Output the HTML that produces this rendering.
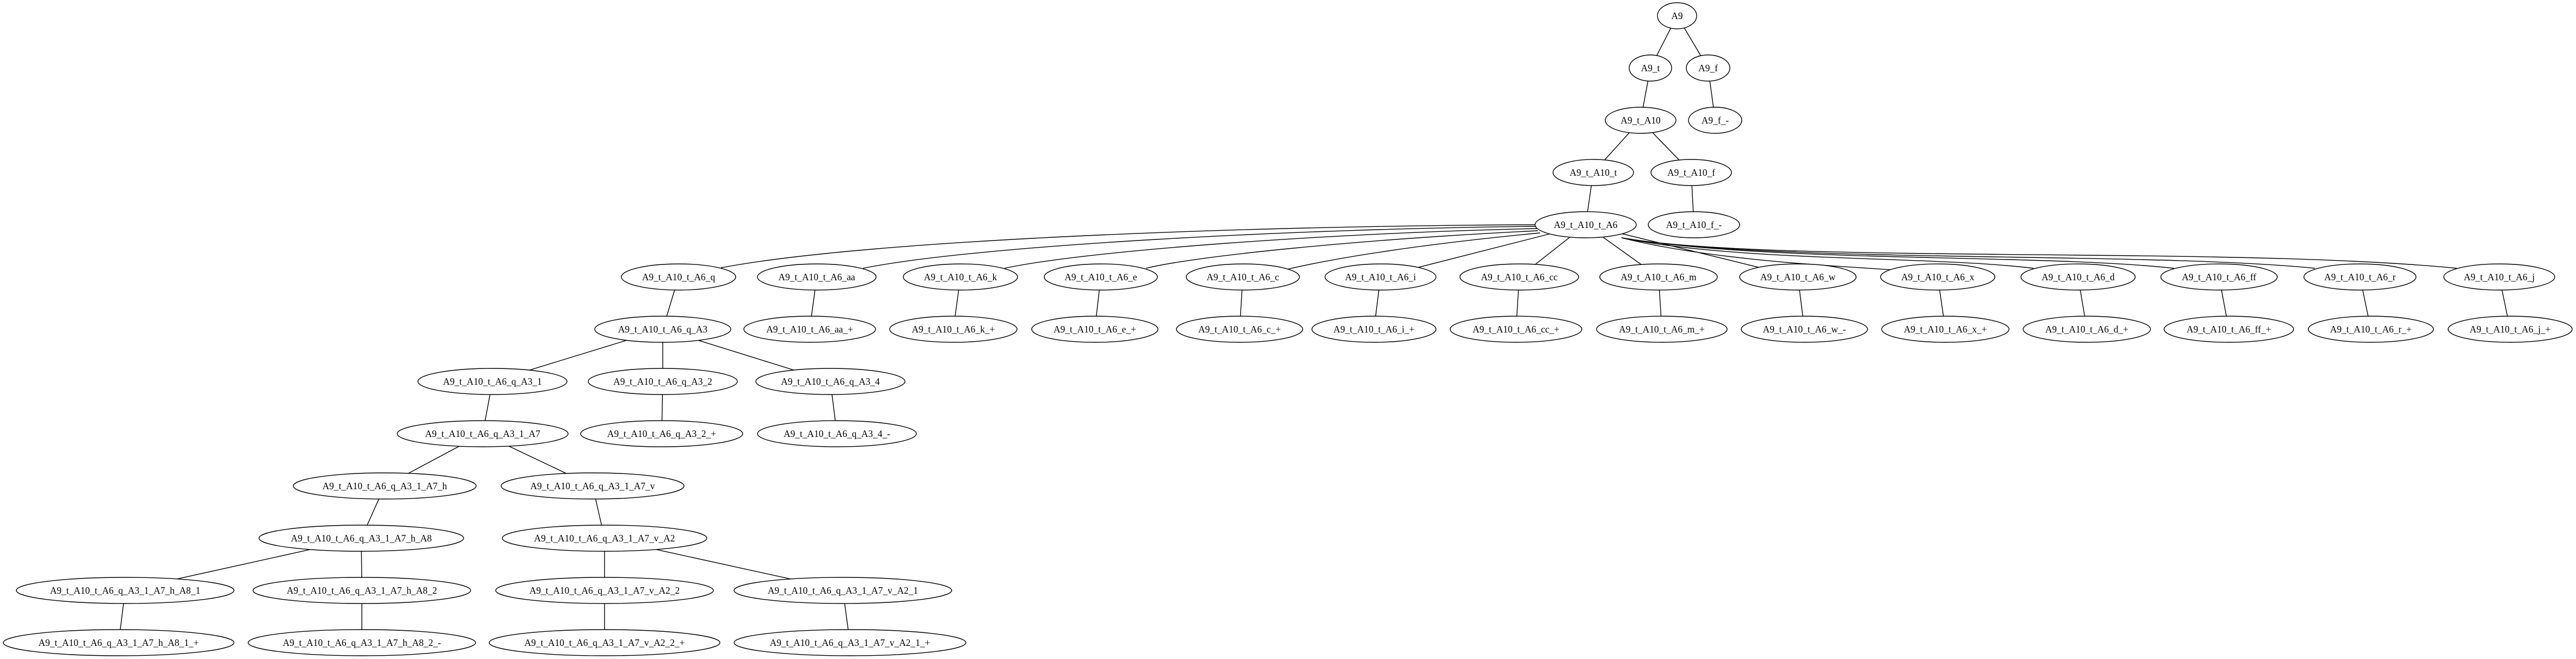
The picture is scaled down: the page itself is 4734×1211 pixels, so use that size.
<!DOCTYPE html>
<html><head><meta charset="utf-8"><style>
html,body{margin:0;padding:0;background:#fff;}
svg{display:block;}
text{font-family:"Liberation Serif",serif;font-size:17.4px;text-anchor:middle;fill:#000;}
ellipse{fill:#fff;stroke:#000;stroke-width:1.4;}
line,path{stroke:#000;stroke-width:1.4;fill:none;}
</style></head><body>
<svg width="4734" height="1211" viewBox="0 0 4734 1211" xmlns="http://www.w3.org/2000/svg">
<g>
<line x1="3082" y1="29" x2="3033" y2="125"/>
<line x1="3082" y1="29" x2="3139" y2="125"/>
<line x1="3033" y1="125" x2="3015" y2="221"/>
<line x1="3139" y1="125" x2="3152" y2="221"/>
<line x1="3015" y1="221" x2="2928" y2="317"/>
<line x1="3015" y1="221" x2="3108" y2="317"/>
<line x1="2928" y1="317" x2="2914" y2="413"/>
<line x1="3108" y1="317" x2="3113" y2="413"/>
<path d="M2822,413 C2300,415 1600,440 1325,492"/>
<path d="M2822,416 C2400,420 1800,450 1586,493"/>
<path d="M2824,420 C2450,428 2000,460 1846,493"/>
<path d="M2826,424 C2500,440 2200,470 2106,493"/>
<path d="M2830,428 C2600,450 2450,475 2365,495"/>
<line x1="2914" y1="413" x2="2537" y2="509"/>
<line x1="2914" y1="413" x2="2792" y2="509"/>
<line x1="2914" y1="413" x2="3048" y2="509"/>
<line x1="2914" y1="413" x2="3304" y2="509"/>
<path d="M2980,437 C3150,480 3400,490 3479,496"/>
<path d="M2980,437 C3200,482 3550,470 3737,493"/>
<path d="M2980,437 C3250,483 3750,466 3995,493"/>
<path d="M2980,437 C3250,484 3950,462 4254,493"/>
<path d="M2980,437 C3250,485 4100,452 4515,493"/>
<line x1="1247" y1="509" x2="1218" y2="605"/>
<line x1="1501" y1="509" x2="1488" y2="605"/>
<line x1="1765" y1="509" x2="1752" y2="605"/>
<line x1="2023" y1="509" x2="2012" y2="605"/>
<line x1="2284" y1="509" x2="2278" y2="605"/>
<line x1="2537" y1="509" x2="2525" y2="605"/>
<line x1="2792" y1="509" x2="2786" y2="605"/>
<line x1="3048" y1="509" x2="3054" y2="605"/>
<line x1="3304" y1="509" x2="3316" y2="605"/>
<line x1="3561" y1="509" x2="3575" y2="605"/>
<line x1="3819" y1="509" x2="3835" y2="605"/>
<line x1="4078" y1="509" x2="4096" y2="605"/>
<line x1="4337" y1="509" x2="4357" y2="605"/>
<line x1="4593" y1="509" x2="4613" y2="605"/>
<line x1="1218" y1="605" x2="905" y2="701"/>
<line x1="1218" y1="605" x2="1218" y2="701"/>
<line x1="1218" y1="605" x2="1526" y2="701"/>
<line x1="905" y1="701" x2="887" y2="797"/>
<line x1="1218" y1="701" x2="1216" y2="797"/>
<line x1="1526" y1="701" x2="1538" y2="797"/>
<line x1="887" y1="797" x2="707" y2="893"/>
<line x1="887" y1="797" x2="1089" y2="893"/>
<line x1="707" y1="893" x2="664" y2="989"/>
<line x1="1089" y1="893" x2="1111" y2="989"/>
<line x1="664" y1="989" x2="230" y2="1085"/>
<line x1="664" y1="989" x2="665" y2="1085"/>
<line x1="1111" y1="989" x2="1111" y2="1085"/>
<line x1="1111" y1="989" x2="1549" y2="1085"/>
<line x1="230" y1="1085" x2="218" y2="1181"/>
<line x1="665" y1="1085" x2="665" y2="1181"/>
<line x1="1111" y1="1085" x2="1111" y2="1181"/>
<line x1="1549" y1="1085" x2="1562" y2="1181"/>
</g>
<g>
<ellipse cx="3082" cy="29" rx="36" ry="24"/><text x="3082" y="35">A9</text>
<ellipse cx="3033" cy="125" rx="39" ry="24"/><text x="3033" y="131">A9_t</text>
<ellipse cx="3139" cy="125" rx="40" ry="24"/><text x="3139" y="131">A9_f</text>
<ellipse cx="3015" cy="221" rx="65" ry="24"/><text x="3015" y="227">A9_t_A10</text>
<ellipse cx="3152" cy="221" rx="49" ry="24"/><text x="3152" y="227">A9_f_-</text>
<ellipse cx="2928" cy="317" rx="74" ry="24"/><text x="2928" y="323">A9_t_A10_t</text>
<ellipse cx="3108" cy="317" rx="74" ry="24"/><text x="3108" y="323">A9_t_A10_f</text>
<ellipse cx="2914" cy="413" rx="93" ry="24"/><text x="2914" y="419">A9_t_A10_t_A6</text>
<ellipse cx="3113" cy="413" rx="84" ry="24"/><text x="3113" y="419">A9_t_A10_f_-</text>

<ellipse cx="1247" cy="509" rx="105" ry="24"/><text x="1247" y="515">A9_t_A10_t_A6_q</text>
<ellipse cx="1501" cy="509" rx="109" ry="24"/><text x="1501" y="515">A9_t_A10_t_A6_aa</text>
<ellipse cx="1765" cy="509" rx="105" ry="24"/><text x="1765" y="515">A9_t_A10_t_A6_k</text>
<ellipse cx="2023" cy="509" rx="104" ry="24"/><text x="2023" y="515">A9_t_A10_t_A6_e</text>
<ellipse cx="2284" cy="509" rx="104" ry="24"/><text x="2284" y="515">A9_t_A10_t_A6_c</text>
<ellipse cx="2537" cy="509" rx="102" ry="24"/><text x="2537" y="515">A9_t_A10_t_A6_i</text>
<ellipse cx="2792" cy="509" rx="109" ry="24"/><text x="2792" y="515">A9_t_A10_t_A6_cc</text>
<ellipse cx="3048" cy="509" rx="108" ry="24"/><text x="3048" y="515">A9_t_A10_t_A6_m</text>
<ellipse cx="3304" cy="509" rx="107" ry="24"/><text x="3304" y="515">A9_t_A10_t_A6_w</text>
<ellipse cx="3561" cy="509" rx="105" ry="24"/><text x="3561" y="515">A9_t_A10_t_A6_x</text>
<ellipse cx="3819" cy="509" rx="105" ry="24"/><text x="3819" y="515">A9_t_A10_t_A6_d</text>
<ellipse cx="4078" cy="509" rx="107" ry="24"/><text x="4078" y="515">A9_t_A10_t_A6_ff</text>
<ellipse cx="4337" cy="509" rx="103" ry="24"/><text x="4337" y="515">A9_t_A10_t_A6_r</text>
<ellipse cx="4593" cy="509" rx="102" ry="24"/><text x="4593" y="515">A9_t_A10_t_A6_j</text>

<ellipse cx="1218" cy="605" rx="125" ry="24"/><text x="1218" y="611">A9_t_A10_t_A6_q_A3</text>
<ellipse cx="1488" cy="605" rx="121" ry="24"/><text x="1488" y="611">A9_t_A10_t_A6_aa_+</text>
<ellipse cx="1752" cy="605" rx="117" ry="24"/><text x="1752" y="611">A9_t_A10_t_A6_k_+</text>
<ellipse cx="2012" cy="605" rx="116" ry="24"/><text x="2012" y="611">A9_t_A10_t_A6_e_+</text>
<ellipse cx="2278" cy="605" rx="116" ry="24"/><text x="2278" y="611">A9_t_A10_t_A6_c_+</text>
<ellipse cx="2525" cy="605" rx="114" ry="24"/><text x="2525" y="611">A9_t_A10_t_A6_i_+</text>
<ellipse cx="2786" cy="605" rx="121" ry="24"/><text x="2786" y="611">A9_t_A10_t_A6_cc_+</text>
<ellipse cx="3054" cy="605" rx="120" ry="24"/><text x="3054" y="611">A9_t_A10_t_A6_m_+</text>
<ellipse cx="3316" cy="605" rx="116" ry="24"/><text x="3316" y="611">A9_t_A10_t_A6_w_-</text>
<ellipse cx="3575" cy="605" rx="117" ry="24"/><text x="3575" y="611">A9_t_A10_t_A6_x_+</text>
<ellipse cx="3835" cy="605" rx="117" ry="24"/><text x="3835" y="611">A9_t_A10_t_A6_d_+</text>
<ellipse cx="4096" cy="605" rx="119" ry="24"/><text x="4096" y="611">A9_t_A10_t_A6_ff_+</text>
<ellipse cx="4357" cy="605" rx="115" ry="24"/><text x="4357" y="611">A9_t_A10_t_A6_r_+</text>
<ellipse cx="4613" cy="605" rx="114" ry="24"/><text x="4613" y="611">A9_t_A10_t_A6_j_+</text>

<ellipse cx="905" cy="701" rx="137" ry="24"/><text x="905" y="707">A9_t_A10_t_A6_q_A3_1</text>
<ellipse cx="1218" cy="701" rx="137" ry="24"/><text x="1218" y="707">A9_t_A10_t_A6_q_A3_2</text>
<ellipse cx="1526" cy="701" rx="137" ry="24"/><text x="1526" y="707">A9_t_A10_t_A6_q_A3_4</text>

<ellipse cx="887" cy="797" rx="157" ry="24"/><text x="887" y="803">A9_t_A10_t_A6_q_A3_1_A7</text>
<ellipse cx="1216" cy="797" rx="149" ry="24"/><text x="1216" y="803">A9_t_A10_t_A6_q_A3_2_+</text>
<ellipse cx="1538" cy="797" rx="146" ry="24"/><text x="1538" y="803">A9_t_A10_t_A6_q_A3_4_-</text>

<ellipse cx="707" cy="893" rx="168" ry="24"/><text x="707" y="899">A9_t_A10_t_A6_q_A3_1_A7_h</text>
<ellipse cx="1089" cy="893" rx="168" ry="24"/><text x="1089" y="899">A9_t_A10_t_A6_q_A3_1_A7_v</text>

<ellipse cx="664" cy="989" rx="188" ry="24"/><text x="664" y="995">A9_t_A10_t_A6_q_A3_1_A7_h_A8</text>
<ellipse cx="1111" cy="989" rx="188" ry="24"/><text x="1111" y="995">A9_t_A10_t_A6_q_A3_1_A7_v_A2</text>

<ellipse cx="230" cy="1085" rx="200" ry="24"/><text x="230" y="1091">A9_t_A10_t_A6_q_A3_1_A7_h_A8_1</text>
<ellipse cx="665" cy="1085" rx="200" ry="24"/><text x="665" y="1091">A9_t_A10_t_A6_q_A3_1_A7_h_A8_2</text>
<ellipse cx="1111" cy="1085" rx="200" ry="24"/><text x="1111" y="1091">A9_t_A10_t_A6_q_A3_1_A7_v_A2_2</text>
<ellipse cx="1549" cy="1085" rx="200" ry="24"/><text x="1549" y="1091">A9_t_A10_t_A6_q_A3_1_A7_v_A2_1</text>

<ellipse cx="218" cy="1181" rx="212" ry="24"/><text x="218" y="1187">A9_t_A10_t_A6_q_A3_1_A7_h_A8_1_+</text>
<ellipse cx="665" cy="1181" rx="209" ry="24"/><text x="665" y="1187">A9_t_A10_t_A6_q_A3_1_A7_h_A8_2_-</text>
<ellipse cx="1111" cy="1181" rx="212" ry="24"/><text x="1111" y="1187">A9_t_A10_t_A6_q_A3_1_A7_v_A2_2_+</text>
<ellipse cx="1562" cy="1181" rx="213" ry="24"/><text x="1562" y="1187">A9_t_A10_t_A6_q_A3_1_A7_v_A2_1_+</text>
</g>
</svg>
</body></html>
